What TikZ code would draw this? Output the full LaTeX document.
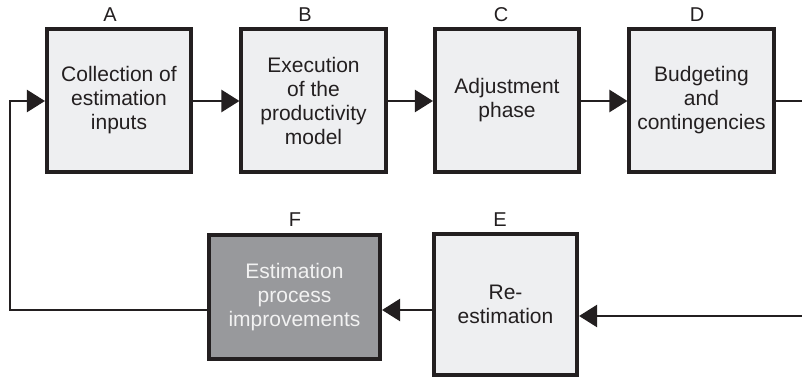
\documentclass[tikz,border=0pt]{standalone}
\usepackage{fontspec}
\setmainfont{Liberation Sans}
\usetikzlibrary{arrows.meta}
\definecolor{boxline}{HTML}{231F20}
\definecolor{boxfill}{HTML}{EEEFF1}
\definecolor{darkfill}{HTML}{98999C}
\definecolor{darktext}{HTML}{F2F2F2}
\tikzset{
  stage/.style={draw=boxline, line width=3.6pt, fill=boxfill, inner sep=0pt,
    align=center, text=boxline, font=\fontsize{21}{24}\selectfont},
  darkstage/.style={stage, fill=darkfill, text=darktext},
  tag/.style={text=boxline, inner sep=0pt, font=\fontsize{20}{22}\selectfont},
  flow/.style={draw=boxline, line width=2.4pt,
    -{Triangle[length=18pt,width=22pt]}},
  plain/.style={draw=boxline, line width=2.4pt}
}
\begin{document}
\begin{tikzpicture}[x=1pt,y=-1pt]
\useasboundingbox (0,0) rectangle (802,379);
% top row
\node[stage, minimum width=144.5pt, minimum height=142.5pt] (a) at (119,100.5)
  {Collection of\\estimation\\inputs};
\node[stage, minimum width=144.5pt, minimum height=142.5pt] (b) at (313.5,100.5)
  {Execution\\of the\\productivity\\model};
\node[stage, minimum width=144.5pt, minimum height=142.5pt] (c) at (507,100.5)
  {Adjustment\\phase};
\node[stage, minimum width=144.5pt, minimum height=142.5pt] (d) at (701.5,100.5)
  {Budgeting\\and\\contingencies};
% bottom row
\node[darkstage, minimum width=171.5pt, minimum height=124.5pt] (f) at (294.5,297)
  {Estimation\\process\\improvements};
\node[stage, minimum width=143.5pt, minimum height=141.5pt] (e) at (505.5,304.5)
  {Re-\\estimation};
% letters above the boxes
\node[tag] (la) at (110,15) {A};
\node[tag] (lb) at (305,15) {B};
\node[tag] (lc) at (501,15) {C};
\node[tag] (ld) at (697,15) {D};
\node[tag] (lf) at (295,220) {F};
\node[tag] (le) at (500,220) {E};
% loose ends and corners of the loop
\coordinate (dout) at (802,101);
\coordinate (ein) at (802,316);
\coordinate (lowleft) at (10,310);
\coordinate (upleft) at (10,101);
% connectors
\draw[flow] (a.east |- 0,101) -- (b.west |- 0,101);
\draw[flow] (b.east |- 0,101) -- (c.west |- 0,101);
\draw[flow] (c.east |- 0,101) -- (d.west |- 0,101);
\draw[plain] (d.east |- dout) -- (dout);
\draw[flow] (ein) -- (e.east |- ein);
\draw[flow] (e.west |- lowleft) -- (f.east |- lowleft);
\draw[flow] (f.west |- lowleft) -- (lowleft) -- (upleft) -- (a.west |- upleft);
\end{tikzpicture}
\end{document}
